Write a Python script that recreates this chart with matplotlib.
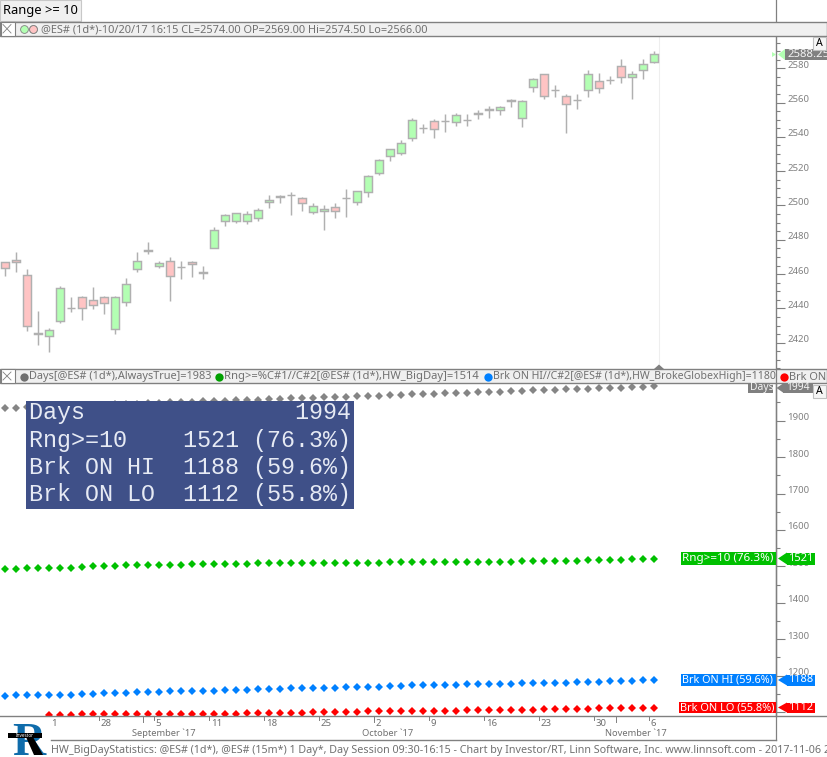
import matplotlib
matplotlib.use("Agg")
import matplotlib.pyplot as plt
from matplotlib.lines import Line2D
from matplotlib.patches import Rectangle, Polygon
from matplotlib.ticker import FixedLocator, NullFormatter
from matplotlib.transforms import ScaledTranslation

W, H = 827, 757

opens = [2467, 2468, 2459.25, 2425.5, 2423.75, 2432.5, 2440, 2446.5, 2444.75, 2446.75,
         2427.75, 2444, 2462.75, 2473.25, 2465, 2467.5, 2464.25, 2467, 2460.5, 2475.5,
         2490.75, 2491.25, 2491.25, 2492.5, 2501.75, 2504.75, 2506, 2504.25, 2496, 2496.5,
         2499, 2504.25, 2501.75, 2507.75, 2518.75, 2528.75, 2530.5, 2539.25, 2545, 2549,
         2549.25, 2548.5, 2549.75, 2553.25, 2555.5, 2555.5, 2560.75, 2550.75, 2569, 2576.5,
         2567.5, 2563.75, 2561.25, 2567.25, 2572.5, 2573, 2581.25, 2574.75, 2578.75, 2583.5]
highs = [2467, 2473, 2462.75, 2438.25, 2428.5, 2453, 2446.5, 2447.5, 2452.25, 2447.5,
         2447, 2458, 2473, 2478.5, 2467.5, 2469.75, 2467.5, 2467.5, 2465, 2487.25,
         2494.75, 2495.5, 2496.5, 2498.25, 2506, 2506, 2507.75, 2504.75, 2501.25, 2500.25,
         2501.25, 2509.5, 2508.25, 2517.75, 2527, 2532.75, 2538.25, 2550.75, 2547.25, 2550.25,
         2553.25, 2553.75, 2553.25, 2555.5, 2558, 2558, 2562, 2561.25, 2574.5, 2576.5,
         2570, 2564.75, 2564.75, 2578.75, 2577, 2575.25, 2585.25, 2578.25, 2585.25, 2590]
lows = [2459, 2461.5, 2427, 2418.75, 2414.75, 2431.75, 2438, 2433.5, 2439.75, 2437,
        2425.25, 2441.5, 2461.5, 2472, 2463.75, 2444.5, 2457.25, 2458.5, 2457.25, 2475,
        2488.25, 2490, 2489.5, 2491.25, 2498.25, 2501.5, 2494.5, 2496.75, 2495.25, 2485.75,
        2493, 2493.5, 2500.5, 2505, 2518, 2526, 2529.5, 2537.75, 2542, 2539.5,
        2543, 2546.5, 2546.5, 2550.5, 2551.25, 2552.5, 2557.5, 2545.5, 2566, 2562.25,
        2563.25, 2542, 2556, 2563.5, 2565.75, 2570.75, 2571.5, 2562.25, 2574, 2583]
closes = [2463.5, 2467, 2429.5, 2425, 2427.25, 2451.75, 2440, 2440, 2441.75, 2443,
          2446.5, 2454.5, 2467.5, 2474, 2466.75, 2459, 2464, 2465.75, 2461.5, 2485.5,
          2494.25, 2495.5, 2494.75, 2497.25, 2503, 2505.5, 2506, 2501.25, 2499.5, 2497.75,
          2496.5, 2504.25, 2508.25, 2517, 2526.25, 2532.75, 2536.25, 2549.75, 2545, 2544.5,
          2549.25, 2552.5, 2549.75, 2553.75, 2556, 2557.25, 2561.25, 2560.75, 2574, 2563.75,
          2567.5, 2559, 2561.75, 2576.5, 2568.25, 2573, 2574.75, 2576.5, 2582.25, 2588.25]

days = [1935, 1936, 1937, 1938, 1939, 1940, 1941, 1942, 1943, 1944,
        1945, 1946, 1947, 1948, 1949, 1950, 1951, 1952, 1953, 1954,
        1955, 1956, 1957, 1958, 1959, 1960, 1961, 1962, 1963, 1964,
        1965, 1966, 1967, 1968, 1969, 1970, 1971, 1972, 1973, 1974,
        1975, 1976, 1977, 1978, 1979, 1980, 1981, 1982, 1983, 1984,
        1985, 1986, 1987, 1988, 1989, 1990, 1991, 1992, 1993, 1994]
rng_big = [1494, 1494, 1495, 1496, 1497, 1497, 1497, 1499, 1500, 1502,
           1502, 1503, 1504, 1505, 1505, 1505, 1505, 1506, 1506, 1507,
           1507, 1507, 1507, 1508, 1508, 1508, 1508, 1508, 1508, 1508,
           1508, 1510, 1510, 1510, 1510, 1511, 1511, 1512, 1512, 1512,
           1512, 1513, 1513, 1513, 1513, 1513, 1513, 1514, 1514, 1515,
           1515, 1515, 1515, 1517, 1518, 1518, 1518, 1520, 1521, 1521]
brk_hi = [1144, 1146, 1146, 1147, 1147, 1147, 1148, 1150, 1150, 1152,
          1153, 1153, 1155, 1155, 1156, 1158, 1158, 1158, 1158, 1159,
          1160, 1161, 1161, 1163, 1163, 1164, 1166, 1166, 1166, 1167,
          1167, 1169, 1169, 1169, 1170, 1171, 1172, 1174, 1174, 1174,
          1175, 1175, 1177, 1177, 1177, 1178, 1178, 1180, 1180, 1180,
          1180, 1181, 1182, 1183, 1183, 1185, 1185, 1186, 1188, 1188]
# the first four red points are below the visible range
brk_lo = [None, None, None, None, 1092, 1093, 1093, 1095, 1095, 1095,
          1095, 1095, 1096, 1096, 1096, 1096, 1096, 1096, 1096, 1096,
          1096, 1096, 1097, 1097, 1097, 1097, 1098, 1098, 1099, 1101,
          1101, 1101, 1101, 1103, 1103, 1103, 1103, 1103, 1103, 1104,
          1104, 1104, 1105, 1105, 1106, 1106, 1106, 1107, 1107, 1109,
          1109, 1109, 1109, 1109, 1112, 1112, 1112, 1112, 1112, 1112]

date_ticks = [4, 9, 14, 19, 24, 29, 34, 39, 44, 49, 54, 59]
date_labels = ["1", "28", "5", "11", "18", "25", "2", "9", "16", "23", "30", "6"]
month_ticks = [13, 34, 56]
month_labels = ["September `17", "October `17", "November `17"]

table_rows = [("Days", "", ""),
              ("Rng>=10", "1521", "(76.3%)"),
              ("Brk ON HI", "1188", "(59.6%)"),
              ("Brk ON LO", "1112", "(55.8%)")]

GRAY = "#808080"
WICK = "#b0b0b0"
UP = "#b3ffb3"
DOWN = "#ffc4c4"
GREEN = "#00c000"
BLUE = "#0080ff"
RED = "#ff0000"
PANEL = "#f0f0f0"
FONT = "Noto Sans"

fig = plt.figure(figsize=(W / 100, H / 100), dpi=100, facecolor="white")


def fx(x):
    return x / W


def fy(y):
    return 1 - y / H


def box(x0, y0, x1, y1, color, edge="none", lw=0, z=5):
    fig.add_artist(Rectangle((fx(x0), fy(y1)), (x1 - x0) / W, (y1 - y0) / H, transform=fig.transFigure,
                             facecolor=color, edgecolor=edge, linewidth=lw, zorder=z))


def line(x0, y0, x1, y1, color=GRAY, lw=0.9, z=6):
    fig.add_artist(Line2D([fx(x0), fx(x1)], [fy(y0), fy(y1)], transform=fig.transFigure,
                          color=color, linewidth=lw, zorder=z))


def label(x, y, s, size=7.9, color="#707070", ha="left", family=FONT, z=8):
    fig.text(fx(x), fy(y), s, fontsize=size, color=color, ha=ha, va="center", family=family, zorder=z)


def poly(points, color, z=7):
    fig.add_artist(Polygon([(fx(a), fy(b)) for a, b in points], transform=fig.transFigure,
                           facecolor=color, edgecolor="none", zorder=z))


def make_pane(top, bottom, ymin, ymax, majors, minors):
    ax = fig.add_axes([0, fy(bottom), fx(776), (bottom - top) / H])
    ax.set_xlim(-5.3 / 11, (776 - 5.3) / 11)
    ax.set_ylim(ymin, ymax)
    for s in ["top", "left", "bottom"]:
        ax.spines[s].set_visible(False)
    ax.spines["right"].set_color(GRAY)
    ax.spines["right"].set_linewidth(1.0)
    ax.xaxis.set_visible(False)
    ax.yaxis.tick_right()
    ax.yaxis.set_major_locator(FixedLocator(majors))
    ax.yaxis.set_minor_locator(FixedLocator(minors))
    ax.yaxis.set_minor_formatter(NullFormatter())
    ax.tick_params(axis="y", which="major", length=6.5, width=0.8, color=GRAY, pad=1.5,
                   labelsize=6.9, labelcolor=GRAY)
    ax.tick_params(axis="y", which="minor", length=3, width=0.8, color=GRAY)
    shift = ScaledTranslation(0, 4 / 100, fig.dpi_scale_trans)
    for t in ax.get_yticklabels():
        t.set_transform(t.get_transform() + shift)
        t.set_family(FONT)
    return ax


# price pane
ax1 = make_pane(37, 369, 2404.66, 2598.25, list(range(2420, 2581, 20)),
                [v for v in range(2405, 2600, 5) if v % 20 != 0])
x = list(range(len(closes)))
ax1.axvline(59.45, color="#eeeeee", lw=0.8, zorder=1)
ax1.vlines(x, lows, highs, color=WICK, lw=1.05, zorder=2)
for i in x:
    top = max(opens[i], closes[i])
    bottom = min(opens[i], closes[i])
    ax1.bar(i, top - bottom, bottom=bottom, width=0.75, zorder=3,
            color=UP if closes[i] >= opens[i] else DOWN, edgecolor=WICK, linewidth=1.05)

# count pane
ax2 = make_pane(384, 715.7, 1090.2, 2000.7, list(range(1100, 2000, 100)),
                list(range(1150, 2000, 100)))
for vals, col in [(days, "#858585"), (rng_big, GREEN), (brk_hi, BLUE)]:
    ax2.plot(x, vals, ls="none", marker="D", ms=3.6, mew=0, color=col)
ax2.plot(x[4:], brk_lo[4:], ls="none", marker="D", ms=3.6, mew=0, color=RED)

# top tab and pane headers
box(0, 0, 81, 20.5, PANEL, edge="#c8c8c8", lw=0.8)
label(3, 10.5, "Range >= 10", size=9.3, color="black")
line(776, 0, 776, 21)
for y0, y1 in [(21.5, 36), (369, 383)]:
    box(0, y0, 827, y1, PANEL, edge=GRAY, lw=1.0)
    box(0.5, y0, 14.5, y1, "white", edge=GRAY, lw=0.8, z=6)
    line(3, y0 + 3, 11, y1 - 3, lw=0.6, z=7)
    line(3, y1 - 3, 11, y0 + 3, lw=0.6, z=7)
fig.add_artist(Line2D([fx(24), fx(33)], [fy(29), fy(29)], transform=fig.transFigure, ls="none",
                      marker="o", ms=5.6, mew=0.6, mec=GRAY, zorder=7, color=UP))
fig.add_artist(Line2D([fx(33)], [fy(29)], transform=fig.transFigure, ls="none",
                      marker="o", ms=5.6, mew=0.6, mec=GRAY, zorder=8, color=DOWN))
label(41, 29.5, "@ES# (1d*)-10/20/17 16:15 CL=2574.00 OP=2569.00 Hi=2574.50 Lo=2566.00")

header_items = [(24, "#707070", "Days[@ES# (1d*),AlwaysTrue]=1983", 7.9),
                (219, "#00a000", "Rng>=%C#1//C#2[@ES# (1d*),HW_BigDay]=1514", 8.05),
                (488, BLUE, "Brk ON HI//C#2[@ES# (1d*),HW_BrokeGlobexHigh]=1180", 7.6),
                (784, RED, "Brk ON LO", 7.9)]
for px, col, s, size in header_items:
    fig.add_artist(Line2D([fx(px)], [fy(376.5)], transform=fig.transFigure, ls="none",
                          marker="o", ms=6, mew=0, color=col, zorder=7))
    label(px + 5, 377, s, size=size)
poly([(654, 369), (659, 364.5), (664, 369)], GRAY)

# price tag and the A buttons
poly([(772, 52), (776, 54.5), (772, 57)], UP)
poly([(778, 54.5), (785, 49), (785, 60)], UP)
box(785, 49, 827, 60, GRAY, z=7)
label(787, 54.5, "2588.25", size=8.2, color="#f4f4f4", z=8)
for y0 in [37, 385]:
    box(813, y0, 825.5, y0 + 13, "#f6f6f6", edge="#c0c0c0", lw=0.8, z=9)
    label(819.2, y0 + 6.5, "A", size=7.6, color="black", ha="center", z=10)

# table over the dots
box(26, 401, 354, 509, "#3f5088", z=5)
for row, (name, val, pct) in zip([413, 440.5, 467.5, 494.5], table_rows):
    s = name.ljust(11) + val + " " + pct if val else name.ljust(19) + "1994"
    label(29, row, s, size=16.8, color="#e6eaf4", family="Liberation Mono")

# tags on the count axis
box(748, 383.5, 773, 392.5, GRAY, z=7)
label(750, 387.5, "Days", size=7.4, color="#f4f4f4")
poly([(776.5, 388), (783, 383.5), (783, 392.5)], GRAY)
box(783, 383.5, 813, 392.5, GRAY, z=7)
label(786, 387.5, "1994", size=7.4, color="#f4f4f4")

tags = [(681, 552, 565, GREEN, "Rng>=10 (76.3%)", "1521", 8.4),
        (681, 674, 686, BLUE, "Brk ON HI (59.6%)", "1188", 7.8),
        (679, 702, 713, RED, "Brk ON LO (55.8%)", "1112", 7.9)]
for x0, y0, y1, col, name, val, size in tags:
    box(x0, y0, 776, y1, col, z=7)
    label(x0 + 1, (y0 + y1) / 2, name, size=size, color="white")
    mid = (y0 + y1) / 2
    poly([(778, mid), (787, y0 + 0.5), (787, y1 - 0.5)], col)
    box(787, y0 + 0.5, 815, y1 - 0.5, col, z=7)
    label(801, mid, val, size=8, color="white", ha="center")

# date axis, ticks follow the candle spacing
line(0, 715.7, 827, 715.7, lw=1.0)
tick_x = ax2.transData.transform([(t - 0.5, 1500) for t in date_ticks])[:, 0]
month_x = ax2.transData.transform([(t - 0.5, 1500) for t in month_ticks])[:, 0]
for px, s in zip(tick_x, date_labels):
    if s != "1":
        line(px, 716, px, 720, lw=0.7)
    label(px + 7.5 if s == "1" else px + 2, 723.5, s, size=6.9)
for px in month_x:
    line(px, 716, px, 722, lw=0.7)
label(163.5, 733, month_labels[0], size=6.7, ha="center")
label(388, 733, month_labels[1], size=6.7, ha="center")
label(636, 733, month_labels[2], size=6.7, ha="center")
line(51, 740, 776, 740, lw=1.0)
line(776, 369, 776, 740)
label(51, 750, "HW_BigDayStatistics: @ES# (1d*), @ES# (15m*) 1 Day*, Day Session 09:30-16:15 - "
      "Chart by Investor/RT, Linn Software, Inc. www.linnsoft.com - 2017-11-06 20:15", size=7.73)

# logo
fig.text(fx(12), fy(755), "R", fontsize=33, color="#0f6cab", family="Liberation Serif", fontweight="bold",
         ha="left", va="baseline", zorder=7)
poly([(26, 737), (33, 737), (43, 755), (34, 755)], "black", z=8)
box(8, 733, 42, 738, "black", z=8)
label(25, 735.5, "Investor", size=3.4, color="white", ha="center", z=9)

fig.savefig("out.png", dpi=100)
